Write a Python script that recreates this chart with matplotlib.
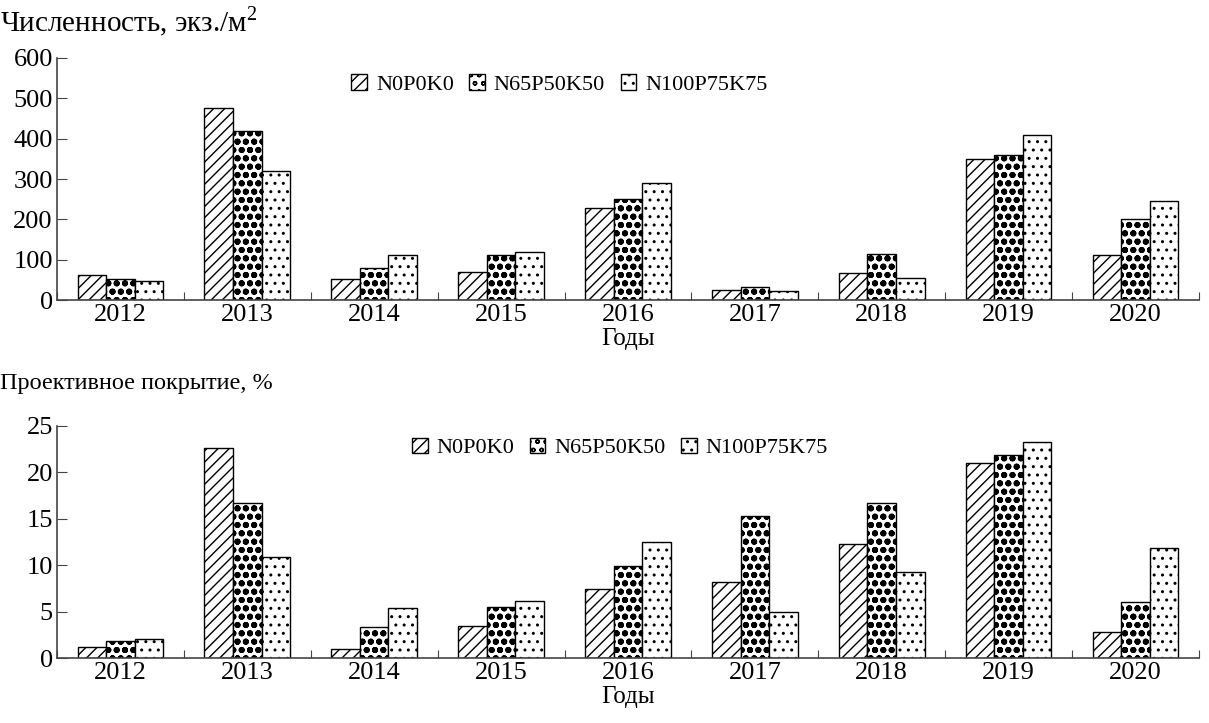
import numpy as np
import matplotlib.pyplot as plt

plt.rcParams['font.family'] = ['Liberation Serif', 'DejaVu Serif']
plt.rcParams['mathtext.fontset'] = 'custom'
plt.rcParams['mathtext.rm'] = 'Liberation Serif'
plt.rcParams['hatch.color'] = 'black'

# data
years = ['2012', '2013', '2014', '2015', '2016', '2017', '2018', '2019', '2020']
series = ['N0P0K0', 'N65P50K50', 'N100P75K75']

abund_n0 = [62, 476, 52, 70, 228, 25, 68, 350, 112]
abund_n65 = [52, 420, 80, 112, 250, 32, 115, 360, 200]
abund_n100 = [46, 320, 112, 118, 290, 22, 55, 410, 245]

cover_n0 = [1.2, 22.6, 1.0, 3.4, 7.4, 8.2, 12.3, 21.0, 2.8]
cover_n65 = [1.8, 16.7, 3.3, 5.5, 9.9, 15.3, 16.7, 21.9, 6.0]
cover_n100 = [2.1, 10.9, 5.4, 6.1, 12.5, 5.0, 9.3, 23.3, 11.9]

hatches = ['///', 'oo', '..']
hatch_lw = [1.0, 2.0, 1.0]
width = 0.225

fig = plt.figure(figsize=(12.09, 7.23), dpi=100)
ax1 = fig.add_axes([0.0471, 0.585, 0.9446, 0.3348])
ax2 = fig.add_axes([0.0471, 0.0899, 0.9446, 0.3209])


def draw(ax, vals, ymax, ystep, leg_pos):
    x = np.arange(len(years))
    for i, v in enumerate(vals):
        bars = ax.bar(x + (i - 1) * width, v, width, facecolor='white',
                      edgecolor='black', linewidth=1.0, hatch=hatches[i],
                      label=series[i])
        for b in bars:
            try:
                b.set_hatch_linewidth(hatch_lw[i])
            except AttributeError:
                pass
    ax.set_xlim(-0.5, len(years) - 0.5)
    ax.set_ylim(0, ymax)
    ax.set_yticks(np.arange(0, ymax + ystep, ystep))
    ax.set_xticks(np.arange(-0.5, len(years), 1.0))
    ax.set_xticklabels([])
    ax.set_xticks(x, minor=True)
    ax.set_xticklabels(years, minor=True)
    ax.tick_params(axis='x', which='major', direction='in', length=6, color='#444444')
    ax.tick_params(axis='x', which='minor', length=0, labelsize=19, pad=3)
    ax.tick_params(axis='y', direction='in', length=7, labelsize=19, color='#444444', pad=3)
    for s in ['top', 'right']:
        ax.spines[s].set_visible(False)
    for s in ['left', 'bottom']:
        ax.spines[s].set_color('#444444')
        ax.spines[s].set_linewidth(1.2)
    ax.set_xlabel('Годы', fontsize=18, labelpad=1)
    ax.legend(loc='center', bbox_to_anchor=leg_pos, ncol=3, frameon=False,
              fontsize=16, handlelength=0.7, handleheight=0.7,
              handletextpad=0.4, columnspacing=0.7)


draw(ax1, [abund_n0, abund_n65, abund_n100], 600, 100, (0.44, 0.89))
draw(ax2, [cover_n0, cover_n65, cover_n100], 25, 5, (0.493, 0.905))

fig.text(0.0, 1 - 22 / 723, 'Численность, экз./м$^2$', fontsize=21, va='center', ha='left')
fig.text(0.0, 1 - 383 / 723, 'Проективное покрытие, %', fontsize=17.5, va='center', ha='left')

fig.savefig('out.png', dpi=100)
